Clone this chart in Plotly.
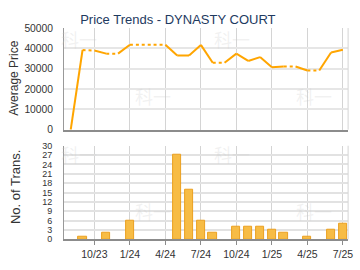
import plotly.graph_objects as go

months = ["8/23", "9/23", "10/23", "11/23", "12/23", "1/24", "2/24", "3/24", "4/24",
          "5/24", "6/24", "7/24", "8/24", "9/24", "10/24", "11/24", "12/24", "1/25",
          "2/25", "3/25", "4/25", "5/25", "6/25", "7/25"]
avg_price = [0, 39200, 38900, 37400, 37400, 41800, 41800, 41800, 41800,
             36500, 36500, 41700, 32900, 32900, 37400, 33800, 35700, 30700,
             31100, 31100, 29100, 29100, 38000, 39300]
num_trans = [0, 1, 0, 2, 0, 6, 0, 0, 0, 27, 16, 6, 2, 0, 4, 4, 4, 3, 2, 0, 1, 0, 3, 5]
tick_labels = ["10/23", "1/24", "4/24", "7/24", "10/24", "1/25", "4/25", "7/25"]
title_text = "Price Trends - DYNASTY COURT"

W, H = 360, 270
FONT = "Arial, Liberation Sans, sans-serif"
LINE_C = "#FFA500"

# split line into solid (month with transactions) and dotted (carried) segments
sx, sy, dx, dy = [], [], [], []
for i in range(len(months) - 1):
    seg_x = [months[i], months[i + 1], None]
    seg_y = [avg_price[i], avg_price[i + 1], None]
    if num_trans[i + 1] > 0:
        sx += seg_x; sy += seg_y
    else:
        dx += seg_x; dy += seg_y

bar_y = [c if c > 0 else None for c in num_trans]

fig = go.Figure()
fig.add_trace(go.Scatter(x=sx, y=sy, mode="lines", line=dict(color=LINE_C, width=2),
                         connectgaps=False, xaxis="x", yaxis="y", hoverinfo="skip"))
fig.add_trace(go.Scatter(x=dx, y=dy, mode="lines", line=dict(color=LINE_C, width=2, dash="dot"),
                         connectgaps=False, xaxis="x", yaxis="y", hoverinfo="skip"))
fig.add_trace(go.Bar(x=months, y=bar_y, width=0.7,
                     marker=dict(color="#F7BC45", line=dict(color="#EBA020", width=1)),
                     xaxis="x2", yaxis="y2"))

xr = [-0.56, 23.44]
xdom = [65 / W, 353 / W]
common_x = dict(type="category", categoryorder="array", categoryarray=months,
                range=xr, domain=xdom, tickmode="array", tickvals=tick_labels,
                showgrid=True, gridcolor="#d4d4d4", gridwidth=1,
                showline=True, linecolor="#8c8c8c", linewidth=2, zeroline=False)

fig.update_layout(
    width=W, height=H, margin=dict(l=0, r=0, t=0, b=0),
    paper_bgcolor="white", plot_bgcolor="white", showlegend=False,
    font=dict(family=FONT, size=11, color="#333333"),
    bargap=0,
    title=dict(text=title_text, x=0.501, xanchor="center", y=1 - 15 / H, yanchor="middle",
               xref="paper", yref="paper",
               font=dict(family=FONT, size=13, color="#1e3a5f")),
    xaxis=dict(common_x, anchor="y", showticklabels=False, ticks=""),
    yaxis=dict(domain=[1 - 130 / H, 1 - 24 / H], range=[0, 50000], dtick=10000,
               tickformat="d",
               showgrid=True, gridcolor="#e6e6e6", gridwidth=2, zeroline=False,
               showline=True, linecolor="#999999", linewidth=1, ticks="",
               ticklabelstandoff=8, tickfont=dict(size=10.3, color="#333333")),
    xaxis2=dict(common_x, anchor="y2", showticklabels=True, ticks="outside", ticklen=4,
                tickcolor="#8c8c8c", tickfont=dict(size=10.5, color="#333333")),
    yaxis2=dict(domain=[1 - 244.3 / H, 1 - 146.7 / H], range=[0, 30], dtick=3,
                showgrid=True, gridcolor="#e2e2e2", gridwidth=2, zeroline=False,
                showline=True, linecolor="#999999", linewidth=1, ticks="",
                ticklabelstandoff=9, tickfont=dict(size=9, color="#333333")),
)

# right border lines
for xa, ya in (("x", "y"), ("x2", "y2")):
    fig.add_shape(type="line", xref=f"{xa} domain", yref=f"{ya} domain",
                  x0=1, x1=1, y0=0, y1=1, line=dict(color="#d4d4d4", width=1))

fig.add_annotation(text="Average Price", textangle=-90, xref="paper", yref="paper",
                   x=14 / W, y=1 - 76 / H, xanchor="center", yanchor="middle", showarrow=False,
                   font=dict(family=FONT, size=12, color="#333333"))
fig.add_annotation(text="No. of Trans.", textangle=-90, xref="paper", yref="paper",
                   x=15 / W, y=1 - 190 / H, xanchor="center", yanchor="middle", showarrow=False,
                   font=dict(family=FONT, size=13, color="#333333"))

# faint watermarks
for (wx, wy) in [(80, 35), (155, 95), (235, 35), (318, 95), (80, 155), (155, 215), (235, 155), (318, 215)]:
    fig.add_annotation(text="科一", xref="paper", yref="paper", x=wx / W, y=1 - wy / H,
                       xanchor="center", yanchor="middle", showarrow=False,
                       font=dict(family="Noto Sans CJK SC", size=18, color="rgba(200,200,200,0.25)"))

fig.write_html("out.html")
